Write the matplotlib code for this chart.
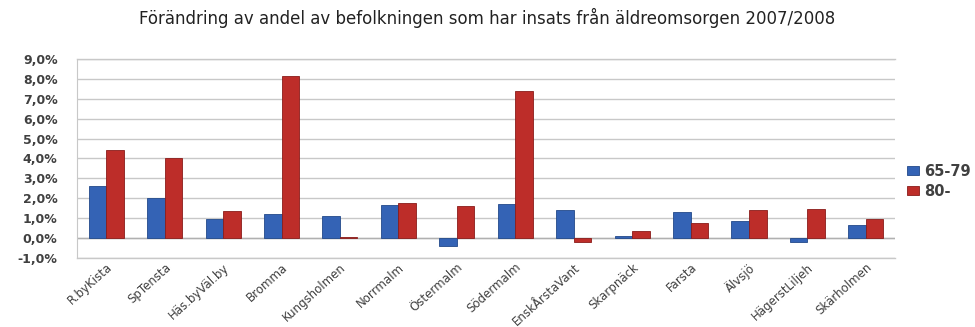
import matplotlib.pyplot as plt
import numpy as np
from matplotlib.ticker import FuncFormatter

TITLE = 'Förändring av andel av befolkningen som har insats från äldreomsorgen 2007/2008'
DISTRICTS = ['R.byKista', 'SpTensta', 'Häs.byVäl.by', 'Bromma', 'Kungsholmen',
             'Norrmalm', 'Östermalm', 'Södermalm', 'EnskÅrstaVant', 'Skarpnäck',
             'Farsta', 'Älvsjö', 'HägerstLiljeh', 'Skärholmen']
AGE_65_79 = [2.6, 2.0, 0.95, 1.2, 1.1, 1.65, -0.4, 1.7, 1.4, 0.1, 1.3, 0.88, -0.2, 0.68]
AGE_80 = [4.4, 4.0, 1.35, 8.15, 0.05, 1.75, 1.6, 7.4, -0.2, 0.38, 0.75, 1.42, 1.48, 0.97]
SERIES_LABELS = ['65-79', '80-']

BLUE = '#3463b5'
RED = '#bd2d29'
GRID = '#c8c8c8'
TEXT = '#404040'

fig = plt.figure(figsize=(9.75, 3.27), dpi=100, facecolor='white')
ax = fig.add_axes([0.079, 0.211, 0.839, 0.609])

x = np.arange(len(DISTRICTS))
w = 0.3
ax.bar(x - w / 2, AGE_65_79, w, color=BLUE, edgecolor='#22498a', linewidth=0.6,
       label=SERIES_LABELS[0], zorder=3)
ax.bar(x + w / 2, AGE_80, w, color=RED, edgecolor='#8a1c1a', linewidth=0.6,
       label=SERIES_LABELS[1], zorder=3)

ax.set_xlim(-0.5, len(DISTRICTS) - 0.5)
ax.set_ylim(-1.0, 9.0)
ax.set_yticks(np.arange(-1, 10, 1))
ax.yaxis.set_major_formatter(FuncFormatter(lambda v, _: f'{v:.1f}%'.replace('.', ',')))
ax.grid(axis='y', color=GRID, linewidth=1.0, zorder=0)
ax.axhline(0, color='#b0b0b0', linewidth=1.0, zorder=2)
ax.axhline(-1, color=GRID, linewidth=1.0, zorder=0, clip_on=False)
ax.axhline(9, color=GRID, linewidth=1.0, zorder=0, clip_on=False)

for s in ['top', 'right', 'bottom']:
    ax.spines[s].set_visible(False)
ax.spines['left'].set_color(GRID)
ax.tick_params(axis='y', length=0, labelsize=9, labelcolor=TEXT, pad=14)
ax.tick_params(axis='x', length=0, labelsize=8.5, labelcolor=TEXT, pad=2)
ax.set_xticks(x)
ax.set_xticklabels(DISTRICTS, rotation=42, ha='right', rotation_mode='anchor')
for lbl in ax.get_yticklabels():
    lbl.set_fontweight('bold')

fig.text(0.5, 0.945, TITLE, ha='center', va='center', fontsize=12, color='#222222')

leg = ax.legend(loc='center left', bbox_to_anchor=(1.002, 0.385), frameon=False,
                fontsize=10.5, handlelength=0.8, handleheight=0.6, handletextpad=0.4,
                labelspacing=0.35, borderaxespad=0.3)
for t in leg.get_texts():
    t.set_color(TEXT)
    t.set_fontweight('bold')

fig.savefig('out.png', dpi=100, facecolor='white')
